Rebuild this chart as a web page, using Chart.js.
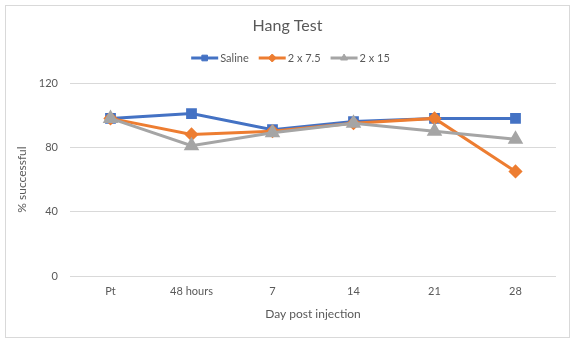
<!DOCTYPE html>
<html>
<head>
<meta charset="utf-8">
<script src="https://cdn.jsdelivr.net/npm/chart.js@4.4.1/dist/chart.umd.min.js"></script>
<style>
  body { margin: 0; background: #fff; }
  #frame { position: absolute; left: 5px; top: 5px; width: 563px; height: 331px; border: 1px solid #d9d9d9; }
  #frame canvas { display: block; }
</style>
</head>
<body>
<div id="frame"><canvas id="hangChart" width="563" height="331"></canvas></div>
<script>
// categories and series
var days = ['Pt', '48 hours', '7', '14', '21', '28'];
var saline = [98, 101, 91, 96, 98, 98];
var dose75 = [98, 88, 90, 95, 98, 65];
var dose15 = [98, 81, 89, 95, 90, 85];
var yTicks = [0, 40, 80, 120];

var textGrey = '#595959';
var fontName = 'Lato, "Liberation Sans", sans-serif';

// title + legend with line-and-marker swatches, like the Excel one
var headerPlugin = {
    id: 'header',
    afterDraw: function (chart) {
        var c = chart.ctx;
        var w = chart.width;
        c.save();
        c.fillStyle = textGrey;
        c.font = '16px ' + fontName;
        c.textAlign = 'center';
        c.textBaseline = 'middle';
        c.fillText('Hang Test', w / 2, 20);

        c.font = '11px ' + fontName;
        var items = chart.data.datasets;
        var lineLen = 27, gap = 2, spacing = 10;
        var total = 0;
        items.forEach(function (ds, i) {
            total += lineLen + gap + c.measureText(ds.label).width;
            if (i < items.length - 1) total += spacing;
        });
        var x = w / 2 - total / 2 + 3;
        var y = 52;
        items.forEach(function (ds) {
            c.strokeStyle = ds.borderColor;
            c.lineWidth = 3;
            c.beginPath();
            c.moveTo(x, y);
            c.lineTo(x + lineLen, y);
            c.stroke();
            c.fillStyle = ds.borderColor;
            c.strokeStyle = ds.borderColor;
            c.lineWidth = 1;
            Chart.helpers.drawPoint(c, { pointStyle: ds.pointStyle, radius: 4, borderWidth: 1 }, x + lineLen / 2, y);
            x += lineLen + gap;
            c.fillStyle = textGrey;
            c.textAlign = 'left';
            c.fillText(ds.label, x, y);
            x += c.measureText(ds.label).width + spacing;
        });
        c.restore();
    }
};

var ctx = document.getElementById('hangChart').getContext('2d');
var myChart = new Chart(ctx, {
    type: 'line',
    data: {
        labels: days,
        datasets: [{
            label: 'Saline',
            data: saline,
            borderColor: '#4472C4',
            backgroundColor: '#4472C4',
            pointStyle: 'rect',
            pointRadius: 5.5,
            borderWidth: 3,
            order: 3
        }, {
            label: '2 x 7.5',
            data: dose75,
            borderColor: '#ED7D31',
            backgroundColor: '#ED7D31',
            pointStyle: 'rectRot',
            pointRadius: 5,
            borderWidth: 3,
            order: 2
        }, {
            label: '2 x 15',
            data: dose15,
            borderColor: '#A5A5A5',
            backgroundColor: '#A5A5A5',
            pointStyle: 'triangle',
            pointRadius: 6,
            borderWidth: 3,
            order: 1
        }]
    },
    plugins: [headerPlugin],
    options: {
        responsive: false,
        animation: false,
        layout: {
            padding: { top: 77, right: 13, left: 0, bottom: 16 }
        },
        scales: {
            x: {
                offset: true,
                grid: { display: false, drawTicks: false },
                border: { display: false },
                ticks: { color: textGrey, font: { size: 11, family: fontName }, padding: 9 },
                title: { display: true, text: 'Day post injection', color: textGrey, font: { size: 12, family: fontName }, padding: { top: 2, bottom: 0 } },
                afterFit: function (scale) { scale.height = 45; }
            },
            y: {
                min: 0,
                max: 120,
                afterBuildTicks: function (scale) {
                    scale.ticks = yTicks.map(function (v) { return { value: v }; });
                },
                grid: { color: '#d9d9d9', drawTicks: false },
                border: { display: false },
                ticks: { color: textGrey, font: { size: 11, family: fontName }, padding: 12 },
                title: { display: true, text: '% successful', color: textGrey, font: { size: 12, family: fontName }, padding: { top: 9, bottom: 0 } },
                afterFit: function (scale) { scale.width = 64; }
            }
        },
        plugins: {
            legend: { display: false },
            title: { display: false },
            tooltip: { enabled: false }
        }
    }
});
</script>
</body>
</html>
